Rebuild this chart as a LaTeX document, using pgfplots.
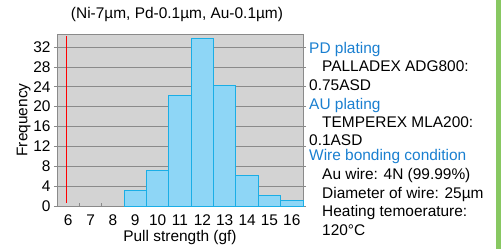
\documentclass[border=0pt]{standalone}
\usepackage{fontspec}
\setmainfont{Liberation Sans}
\usepackage{pgfplots}
\pgfplotsset{compat=1.18}
\definecolor{barfill}{HTML}{8ED6F6}
\definecolor{baredge}{HTML}{1AAEE6}
\definecolor{bggray}{HTML}{D3D3D3}
\definecolor{gridgray}{HTML}{8A8A8A}
\definecolor{headblue}{HTML}{1A7FD0}
\definecolor{stripgreen}{HTML}{88C862}
\newcommand{\fs}{\fontsize{15.5}{18.5}\selectfont}
\begin{document}
\begin{tikzpicture}[x=1bp,y=1bp]
\begin{axis}[
  at={(0,0)}, anchor=south west,
  scale only axis, width=246bp, height=172bp,
  xmin=5.5, xmax=16.5, ymin=0, ymax=34.6,
  axis background/.style={fill=bggray},
  axis line style={gridgray, line width=0.8pt},
  ytick={0,4,...,32}, xtick={6,...,16},
  ymajorgrids, major grid style={gridgray, line width=0.6pt},
  tick style={gridgray, line width=0.6pt},
  tick align=outside, major tick length=3bp,
  major x tick style={draw=none},
  font=\fs,
  /pgf/number format/assume math mode=true,
  xticklabel style={yshift=-2bp},
  ylabel={Frequency}, xlabel={Pull strength (gf)},
  ylabel style={yshift=-4bp},
  xlabel style={yshift=2bp},
  clip=false,
]
\addplot[ybar, bar width=1, bar shift=0pt, fill=barfill, draw=baredge, line width=1pt]
  coordinates {(9,3.2) (10,7.1) (11,22.3) (12,33.6) (13,24.3) (14,6.1) (15,2.1) (16,1.1)};
\addplot[red, line width=0.8pt] coordinates {(5.9,0.7) (5.9,34.2)};
\draw[gridgray, line width=0.6pt] (axis cs:6.5,0) -- (axis cs:6.5,0.6);
\draw[gridgray, line width=0.6pt] (axis cs:7.5,0) -- (axis cs:7.5,0.6);
\end{axis}
\node[font=\fs] at (120,191) {(Ni-7µm, Pd-0.1µm, Au-0.1µm)};
\begin{scope}[every node/.style={font=\fs, anchor=base west, inner sep=0pt}]
\node[text=headblue] at (252,153) {PD plating};
\node at (265,135) {PALLADEX ADG800:};
\node at (252,115.5) {0.75ASD};
\node[text=headblue] at (252,97) {AU plating};
\node at (265,79) {TEMPEREX MLA200:};
\node at (252,61) {0.1ASD};
\node[text=headblue] at (252,45.5) {Wire bonding condition};
\node at (265,26.5) {Au wire: 4N (99.99\%)};
\node at (265,8) {Diameter of wire: 25µm};
\node at (265,-10.5) {Heating temoerature:};
\node at (265,-29) {120°C};
\end{scope}
\fill[stripgreen] (438.7,-43) rectangle (444,206);
\pgfresetboundingbox
\useasboundingbox (-57,-43) rectangle (444,206);
\end{tikzpicture}
\end{document}
